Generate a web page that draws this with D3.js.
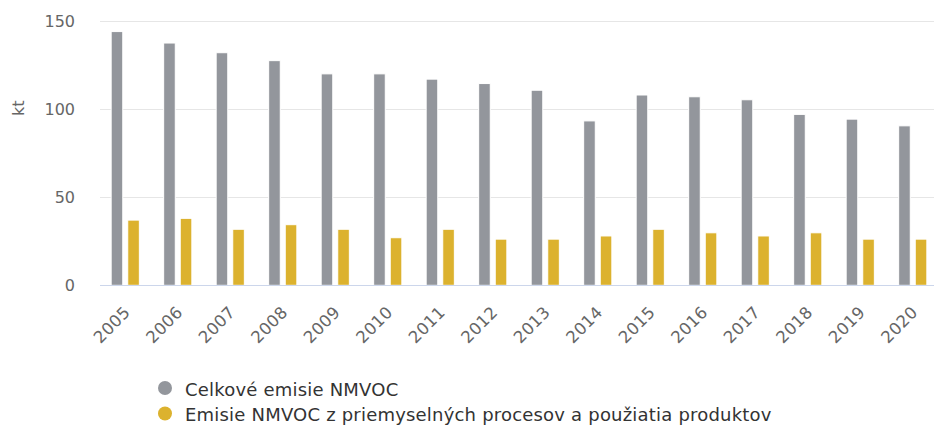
<!DOCTYPE html>
<html>
<head>
<meta charset="utf-8">
<script src="https://cdn.jsdelivr.net/npm/d3@7"></script>
<style>
  html, body { margin: 0; padding: 0; background: #fff; }
  svg { display: block; font-family: "DejaVu Sans", Verdana, sans-serif; }
</style>
</head>
<body>
<svg id="chart" width="934" height="426"></svg>
<script>
const years = ["2005","2006","2007","2008","2009","2010","2011","2012","2013","2014","2015","2016","2017","2018","2019","2020"];
const seriesNames = ["Celkové emisie NMVOC", "Emisie NMVOC z priemyselných procesov a použiatia produktov"];
const totalNMVOC = [144, 137.5, 132, 127.5, 120, 120, 117, 114.5, 110.7, 93.3, 108, 107, 105.3, 97, 94.3, 90.5];
const industrialNMVOC = [37, 38, 31.8, 34.4, 31.8, 27, 31.8, 26.2, 26.2, 28, 31.8, 29.8, 28, 29.8, 26.2, 26.2];
const yTicks = [0, 50, 100, 150];
const colors = ["#93969c", "#dcb22e"];

const svg = d3.select("#chart");
const plotLeft = 99, plotRight = 939, plotTop = 21, plotBottom = 285.3;

const x0 = d3.scaleBand().domain(years).range([plotLeft, plotRight]).padding(0);
const step = x0.step();
const x1 = d3.scaleBand().domain([0, 1]).range([step * 0.2, step * 0.8]).paddingInner(0.3).paddingOuter(0.1);
const y = d3.scaleLinear().domain([0, 150]).range([plotBottom, plotTop]);

// gridlines
const grid = svg.append("g");
grid.selectAll("line").data(yTicks.filter(d => d > 0)).join("line")
  .attr("x1", plotLeft + 1).attr("x2", 934)
  .attr("y1", d => Math.round(y(d)) + 0.5).attr("y2", d => Math.round(y(d)) + 0.5)
  .attr("stroke", "#e6e6e6").attr("stroke-width", 1);

// y axis labels
const yAxis = d3.axisLeft(y).tickValues(yTicks).tickSize(0).tickPadding(0);
const yg = svg.append("g").attr("transform", `translate(75,0)`).call(yAxis);
yg.select(".domain").remove();
yg.selectAll("text").attr("fill", "#666666").attr("font-size", "16px")
  .attr("font-family", "DejaVu Sans, sans-serif").attr("dy", "0.35em");

// axis title
svg.append("text").attr("transform", `translate(24,${(plotTop + plotBottom) / 2 - 45}) rotate(-90)`)
  .attr("text-anchor", "middle").attr("fill", "#666666").attr("font-size", "16px").text("kt");

// bars
const data = [totalNMVOC, industrialNMVOC];
data.forEach((vals, si) => {
  svg.append("g").selectAll("rect").data(vals).join("rect")
    .attr("x", (d, i) => x0(years[i]) + x1(si))
    .attr("width", x1.bandwidth())
    .attr("y", d => y(d))
    .attr("height", d => y(0) - y(d))
    .attr("fill", colors[si])
    .attr("stroke", "#ffffff").attr("stroke-width", 1);
});

// x axis
const xAxis = d3.axisBottom(x0).tickSize(0).tickPadding(0);
const xg = svg.append("g").attr("transform", `translate(0,${plotBottom})`).call(xAxis);
xg.select(".domain").remove();
svg.append("line").attr("x1", plotLeft + 1).attr("x2", 934)
  .attr("y1", Math.round(plotBottom) + 0.5).attr("y2", Math.round(plotBottom) + 0.5)
  .attr("stroke", "#ccd6eb").attr("stroke-width", 1);
xg.selectAll("text")
  .attr("fill", "#666666").attr("font-size", "16.5px").attr("font-family", "DejaVu Sans, sans-serif")
  .attr("letter-spacing", "0.4px")
  .attr("text-anchor", "end").attr("dy", null).attr("y", null)
  .attr("transform", "translate(6,28) rotate(-45)");

// legend
const lg = svg.append("g");
seriesNames.forEach((name, i) => {
  const cy = 388 + i * 25.5;
  lg.append("circle").attr("cx", 165).attr("cy", cy).attr("r", 7).attr("fill", colors[i]);
  lg.append("text").attr("x", 185).attr("y", cy + 7.5).attr("fill", "#333333")
    .attr("font-size", "18px").attr("letter-spacing", "0.2px").text(name);
});
</script>
</body>
</html>
